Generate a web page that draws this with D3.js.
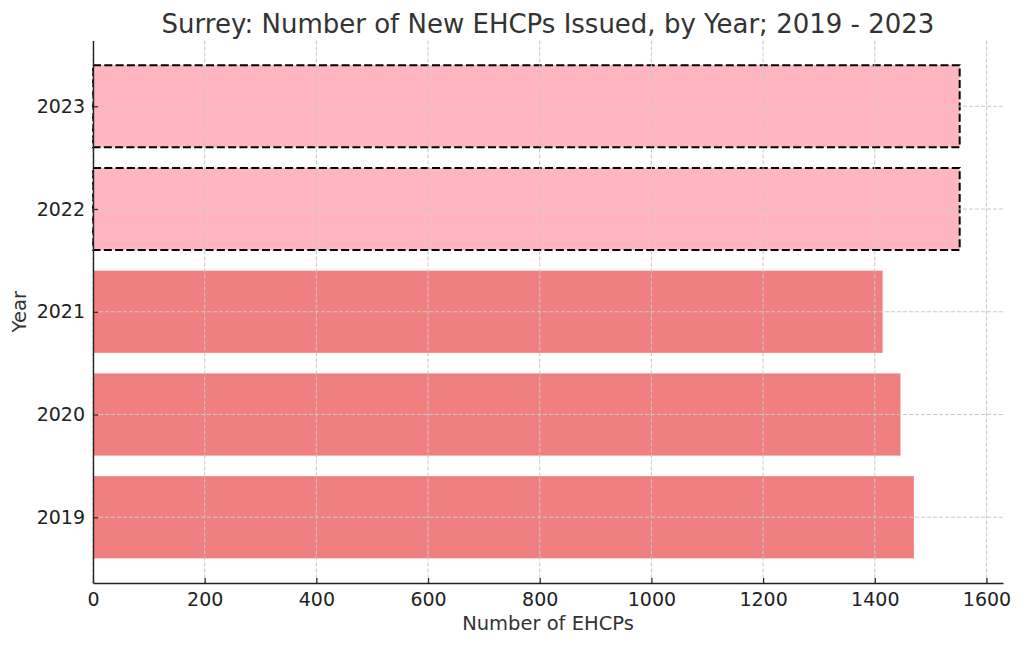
<!DOCTYPE html>
<html>
<head>
<meta charset="utf-8">
<script src="https://cdn.jsdelivr.net/npm/d3@7"></script>
<style>
  body { margin: 0; background: #fff; }
  text { font-family: "DejaVu Sans", sans-serif; }
</style>
</head>
<body>
<div id="svg"></div>
<script>
// chart data
var years = ["2019", "2020", "2021", "2022", "2023"];
var plans = [1470, 1446, 1414, 1552, 1552];
var estimated = [false, false, false, true, true];
var xTicks = [0, 200, 400, 600, 800, 1000, 1200, 1400, 1600];

// set the dimensions and margins of the graph
var margin = { top: 40.5, right: 20, bottom: 63, left: 93 },
    width = 1023 - margin.left - margin.right,
    height = 646 - margin.top - margin.bottom;

var x = d3.scaleLinear()
    .domain([0, d3.max(plans) * 1.05])
    .range([0, width]);

// index scale, like matplotlib barh with 5% margins
var y = d3.scaleLinear()
    .domain([-0.64, years.length - 1 + 0.64])
    .range([height, 0]);

var barH = y(0) - y(0.8);

var svg = d3.select("#svg").append("svg")
    .attr("width", 1023)
    .attr("height", 646)
    .append("g")
    .attr("transform", "translate(" + margin.left + "," + margin.top + ")");

var data = years.map(function(d, i) {
    return { year: d, value: plans[i], est: estimated[i], i: i };
});

// bars
svg.selectAll(".bar")
    .data(data)
    .enter().append("rect")
    .attr("class", "bar")
    .attr("x", 0)
    .attr("y", function(d) { return y(d.i + 0.4); })
    .attr("width", function(d) { return x(d.value); })
    .attr("height", barH)
    .style("fill", function(d) { return d.est ? "#ffb6c1" : "#f08080"; });

// dashed outlines for the estimated years
svg.selectAll(".est")
    .data(data.filter(function(d) { return d.est; }))
    .enter().append("rect")
    .attr("class", "est")
    .attr("x", 0)
    .attr("y", function(d) { return y(d.i + 0.4); })
    .attr("width", function(d) { return x(d.value); })
    .attr("height", barH)
    .style("fill", "none")
    .style("stroke", "#000")
    .style("stroke-width", 2)
    .style("stroke-dasharray", "8,3.3");

// grid lines (on top of bars)
svg.append("g")
    .selectAll("line")
    .data(xTicks)
    .enter().append("line")
    .attr("x1", function(d) { return x(d); })
    .attr("x2", function(d) { return x(d); })
    .attr("y1", 0)
    .attr("y2", height)
    .style("stroke", "#c8c8c8")
    .style("stroke-width", 1)
    .style("stroke-dasharray", "4,2");

svg.append("g")
    .selectAll("line")
    .data(data)
    .enter().append("line")
    .attr("x1", 0)
    .attr("x2", width)
    .attr("y1", function(d) { return y(d.i); })
    .attr("y2", function(d) { return y(d.i); })
    .style("stroke", "#c8c8c8")
    .style("stroke-width", 1)
    .style("stroke-dasharray", "4,2");

// x axis
var xAxis = svg.append("g")
    .attr("transform", "translate(0," + height + ")")
    .call(d3.axisBottom(x).tickValues(xTicks).tickFormat(d3.format("d"))
        .tickSize(-5).tickPadding(10).tickSizeOuter(0));

// y axis
var yAxis = svg.append("g")
    .call(d3.axisLeft(y).tickValues(d3.range(years.length))
        .tickFormat(function(d) { return years[d]; })
        .tickSize(-5).tickPadding(8).tickSizeOuter(0));

[xAxis, yAxis].forEach(function(a) {
    a.select(".domain").style("stroke", "#222").style("stroke-width", 1.4);
    a.selectAll(".tick line").style("stroke", "#222").style("stroke-width", 1.2);
    a.selectAll(".tick text")
        .style("font-family", "DejaVu Sans")
        .style("font-size", "19px")
        .style("fill", "#222");
});

// axis labels
svg.append("text")
    .attr("x", width / 2)
    .attr("y", height + 47)
    .attr("text-anchor", "middle")
    .style("font-size", "19.5px")
    .style("fill", "#333")
    .text("Number of EHCPs");

svg.append("text")
    .attr("transform", "translate(-67," + (height / 2) + ") rotate(-90)")
    .attr("text-anchor", "middle")
    .style("font-size", "19.5px")
    .style("fill", "#333")
    .text("Year");

// title
svg.append("text")
    .attr("x", width / 2)
    .attr("y", -8)
    .attr("text-anchor", "middle")
    .style("font-size", "26px")
    .style("fill", "#333")
    .text("Surrey: Number of New EHCPs Issued, by Year; 2019 - 2023");
</script>
</body>
</html>
